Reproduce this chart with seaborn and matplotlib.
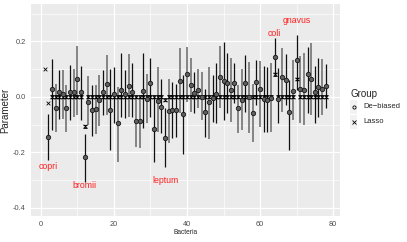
import numpy as np
import pandas as pd
import seaborn as sns
import matplotlib.pyplot as plt
from matplotlib.patches import Rectangle

# bacteria index 1..78
bacteria = list(range(1, 79))

# de-biased estimates and interval ends (x=1 has no de-biased value)
debiased = [np.nan, -0.145, 0.027, -0.040, 0.016, 0.010, -0.042, 0.018, 0.018, 0.066,
            0.018, -0.219, -0.018, -0.048, -0.045, -0.012, 0.018, 0.045, -0.048, 0.012,
            -0.096, 0.024, 0.012, 0.040, 0.016, -0.087, -0.087, 0.022, -0.008, 0.051,
            -0.117, -0.014, -0.036, -0.148, -0.051, -0.048, -0.046, 0.057, -0.063, 0.081,
            0.042, 0.015, 0.024, 0.000, -0.056, -0.018, -0.006, 0.012, 0.072, 0.057,
            0.051, 0.024, 0.051, -0.042, -0.012, 0.051, -0.002, -0.058, 0.052, 0.028,
            -0.008, -0.012, -0.006, 0.145, -0.008, 0.072, 0.060, -0.056, 0.021, 0.133,
            0.027, 0.024, 0.082, 0.065, 0.017, 0.034, 0.027, 0.039]
lower = [np.nan, -0.229, -0.120, -0.127, -0.080, -0.080, -0.127, -0.084, -0.072, -0.066,
         -0.084, -0.307, -0.102, -0.142, -0.135, -0.106, -0.066, -0.066, -0.193, -0.096,
         -0.235, -0.072, -0.075, -0.072, -0.072, -0.181, -0.186, -0.114, -0.096, -0.072,
         -0.235, -0.127, -0.132, -0.253, -0.166, -0.150, -0.145, -0.060, -0.205, -0.018,
         -0.054, -0.060, -0.042, -0.084, -0.145, -0.151, -0.090, -0.096, -0.042, -0.084,
         -0.058, -0.090, -0.024, -0.130, -0.120, -0.054, -0.132, -0.163, -0.030, -0.108,
         -0.127, -0.127, -0.127, 0.078, -0.096, -0.054, -0.030, -0.193, -0.084, 0.024,
         -0.096, -0.102, -0.060, -0.066, -0.094, -0.074, -0.066, -0.042]
upper = [np.nan, -0.063, 0.137, 0.046, 0.097, 0.097, 0.042, 0.115, 0.099, 0.183,
         0.111, -0.135, 0.075, 0.041, 0.041, 0.078, 0.097, 0.151, 0.099, 0.108,
         0.036, 0.157, 0.097, 0.154, 0.121, 0.003, 0.000, 0.157, 0.082, 0.139,
         0.003, 0.106, 0.063, -0.042, 0.063, 0.054, 0.048, 0.175, 0.078, 0.181,
         0.139, 0.090, 0.099, 0.090, 0.030, 0.108, 0.078, 0.121, 0.183, 0.199,
         0.157, 0.139, 0.123, 0.042, 0.099, 0.151, 0.127, 0.048, 0.133, 0.130,
         0.113, 0.108, 0.121, 0.213, 0.105, 0.177, 0.153, 0.060, 0.133, 0.223,
         0.148, 0.157, 0.181, 0.195, 0.111, 0.142, 0.135, 0.118]
# 1 = dark interval, 0 = grey interval
dark = [1, 1, 1, 0, 1, 0, 0, 1, 0, 0, 1, 1, 0, 1, 0, 0, 1, 0, 1, 1,
        0, 1, 1, 0, 1, 0, 0, 1, 0, 1, 1, 0, 1, 1, 0, 1, 1, 0, 1, 0,
        0, 1, 0, 0, 1, 0, 1, 1, 0, 1, 1, 0, 1, 0, 0, 1, 0, 0, 1, 0,
        1, 1, 0, 1, 1, 0, 1, 1, 0, 1, 0, 0, 1, 0, 1, 1, 0, 1]

# lasso estimates (mostly zero)
lasso = [0.0] * 78
lasso_nonzero = {1: 0.100, 2: -0.024, 12: -0.106, 34: -0.010, 64: 0.081, 70: 0.064}
for k, v in lasso_nonzero.items():
    lasso[k - 1] = v

# names of highlighted bacteria
names = ["copri", "bromii", "leptum", "coli", "gnavus"]
name_x = [2, 12, 34, 64, 70]
name_y = [-0.253, -0.319, -0.301, 0.229, 0.277]

deb = pd.DataFrame({"Bacteria": bacteria, "Parameter": debiased, "lo": lower,
                    "hi": upper, "dark": dark})
las = pd.DataFrame({"Bacteria": bacteria, "Parameter": lasso})

sns.set_theme(style="darkgrid", rc={"axes.facecolor": "#EBEBEB", "grid.color": "white",
                                     "xtick.color": "#4D4D4D", "ytick.color": "#4D4D4D"})
plt.rcParams["font.family"] = ["Liberation Sans", "DejaVu Sans"]

fig = plt.figure(figsize=(4.07, 2.42), dpi=100)
ax = fig.add_axes([0.0754, 0.107, 0.76, 0.876])

# interval lines
d = deb.dropna()
for flag, col, lw in [(0, "#858585", 1.4), (1, "#111111", 0.9)]:
    sub = d[d["dark"] == flag]
    ax.vlines(sub["Bacteria"], sub["lo"], sub["hi"], color=col, linewidth=lw, zorder=2)

# lasso tiny intervals with caps
ax.errorbar(las["Bacteria"][2:], las["Parameter"][2:], yerr=0.005, fmt="none",
            ecolor="black", elinewidth=0.5, capsize=1.2, capthick=0.6, zorder=3)

sns.scatterplot(data=las, x="Bacteria", y="Parameter", marker="x", color="black",
                s=7, linewidth=0.6, ax=ax, zorder=4, legend=False)
sns.scatterplot(data=d, x="Bacteria", y="Parameter", marker="o", color="#5f5f5f",
                edgecolor="#1a1a1a", s=10, linewidth=0.6, ax=ax, zorder=5, legend=False)

for n, xx, yy in zip(names, name_x, name_y):
    ax.text(xx, yy, n, color="#FF2020", fontsize=6.3, ha="center", va="center")

ax.set_xlim(-2.8, 81.9)
ax.set_ylim(-0.431, 0.335)
ax.set_xticks([0, 20, 40, 60, 80])
ax.set_yticks([-0.4, -0.2, 0.0, 0.2])
ax.set_yticklabels(["-0.4", "-0.2", "0.0", "0.2"])
ax.set_xticks([10, 30, 50, 70], minor=True)
ax.set_yticks([-0.3, -0.1, 0.1, 0.3], minor=True)
ax.grid(which="major", color="white", linewidth=0.9)
ax.grid(which="minor", color="white", linewidth=0.45)
ax.tick_params(axis="both", which="major", labelsize=5.3, length=2, width=0.6,
               color="#333333", pad=1.5)
ax.tick_params(which="minor", length=0)
for s in ax.spines.values():
    s.set_visible(False)
ax.set_xlabel("Bacteria", fontsize=4.8, labelpad=1)
ax.set_ylabel("Parameter", fontsize=7, labelpad=2)

# legend
fig.text(0.86, 0.612, "Group", fontsize=7, ha="left", va="center")
fig.patches.append(Rectangle((0.86, 0.53), 0.0172, 0.057, transform=fig.transFigure,
                             facecolor="#F2F2F2", edgecolor="none"))
fig.patches.append(Rectangle((0.86, 0.467), 0.0172, 0.057, transform=fig.transFigure,
                             facecolor="#F2F2F2", edgecolor="none"))
fig.lines.append(plt.Line2D([0.8686], [0.558], transform=fig.transFigure, marker="o",
                            markersize=2.3, markerfacecolor="none", markeredgecolor="black",
                            markeredgewidth=0.6, linestyle="none"))
fig.lines.append(plt.Line2D([0.8686], [0.496], transform=fig.transFigure, marker="x",
                            markersize=2.3, color="black", markeredgewidth=0.6,
                            linestyle="none"))
fig.text(0.892, 0.558, "De\u2212biased", fontsize=5.5, ha="left", va="center")
fig.text(0.892, 0.496, "Lasso", fontsize=5.5, ha="left", va="center")

fig.savefig("out.png", dpi=100)
